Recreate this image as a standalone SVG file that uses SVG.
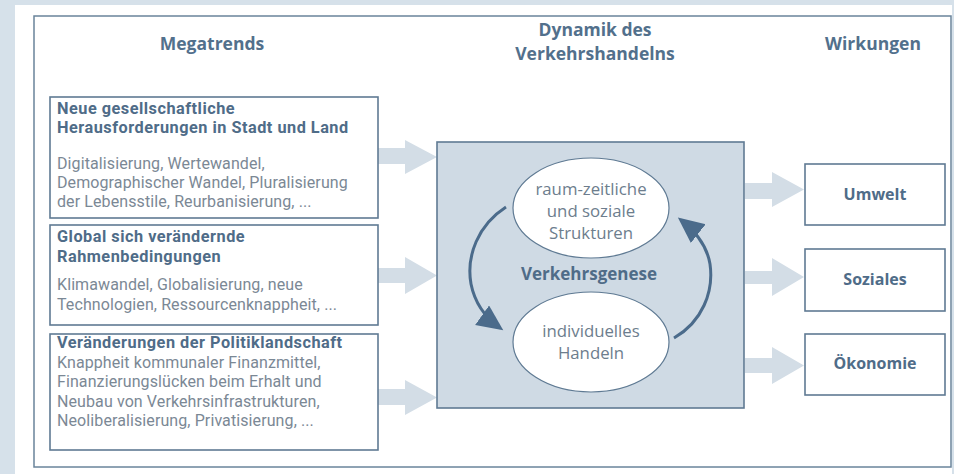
<svg xmlns="http://www.w3.org/2000/svg" width="954" height="474" viewBox="0 0 954 474">
<style>
  .title{font-family:"Open Sans","Liberation Sans",sans-serif;font-weight:700;font-size:17.5px;fill:#52708c;text-anchor:middle}
  .head{font-family:Roboto,"Liberation Sans",sans-serif;font-weight:700;font-size:16.3px;letter-spacing:0.5px;fill:#4f6c88}
  .body{font-family:Roboto,"Liberation Sans",sans-serif;font-size:16px;letter-spacing:0.1px;fill:#7b8895}
  .ell{font-family:"Open Sans","Liberation Sans",sans-serif;font-size:16.8px;fill:#6d7d8d;text-anchor:middle}
  .rb{font-family:"Open Sans","Liberation Sans",sans-serif;font-weight:700;font-size:16px;fill:#4f6c88;text-anchor:middle}
  .box{fill:#ffffff;stroke:#5f7a93;stroke-width:1.6}
  .fat{fill:#d3dde6}
  .cyc{fill:none;stroke:#4b6b8b;stroke-width:3}
</style>
<defs>
  <marker id="ah" markerUnits="userSpaceOnUse" markerWidth="30" markerHeight="30" refX="22" refY="12" orient="auto">
    <path d="M0,0 L26,12 L0,24 Z" fill="#4b6b8b"/>
  </marker>
</defs>
<rect x="0" y="0" width="954" height="474" fill="#d6e1ea"/>
<rect x="15" y="5" width="937" height="469" fill="#ffffff"/>
<rect x="34" y="16" width="917" height="451" fill="none" stroke="#6a849b" stroke-width="1.5"/>

<text class="title" x="212" y="50">Megatrends</text>
<text class="title" x="595" y="36">Dynamik des</text>
<text class="title" x="595" y="60">Verkehrshandelns</text>
<text class="title" x="873" y="50">Wirkungen</text>

<g id="connectors">
  <path class="fat" d="M378,148 H405 V140 L437,157 L405,174 V164 H378 Z"/>
  <path class="fat" d="M378,268 H405 V257 L437,275.5 L405,294 V283 H378 Z"/>
  <path class="fat" d="M378,389 H405 V380 L437,397.5 L405,415 V405 H378 Z"/>
  <path class="fat" d="M745,183 H772 V172 L804,189.5 L772,207 V199 H745 Z"/>
  <path class="fat" d="M745,271 H772 V258 L804,277 L772,296 V284 H745 Z"/>
  <path class="fat" d="M745,358 H772 V347 L804,365.5 L772,384 V373 H745 Z"/>
</g>

<g id="box-gesellschaft">
  <rect class="box" x="50" y="97" width="328" height="121"/>
  <text class="head" x="57" y="114">Neue gesellschaftliche</text>
  <text class="head" x="57" y="133">Herausforderungen in Stadt und Land</text>
  <text class="body" x="57" y="169">Digitalisierung, Wertewandel,</text>
  <text class="body" x="57" y="188">Demographischer Wandel, Pluralisierung</text>
  <text class="body" x="57" y="207">der Lebensstile, Reurbanisierung, ...</text>
</g>
<g id="box-global">
  <rect class="box" x="50" y="225" width="328" height="100"/>
  <text class="head" x="57" y="242">Global sich verändernde</text>
  <text class="head" x="57" y="262">Rahmenbedingungen</text>
  <text class="body" x="57" y="290">Klimawandel, Globalisierung, neue</text>
  <text class="body" x="57" y="310">Technologien, Ressourcenknappheit, ...</text>
</g>
<g id="box-politik">
  <rect class="box" x="50" y="334" width="328" height="116"/>
  <text class="head" x="57" y="348">Veränderungen der Politiklandschaft</text>
  <text class="body" x="57" y="368">Knappheit kommunaler Finanzmittel,</text>
  <text class="body" x="57" y="387">Finanzierungslücken beim Erhalt und</text>
  <text class="body" x="57" y="407">Neubau von Verkehrsinfrastrukturen,</text>
  <text class="body" x="57" y="426">Neoliberalisierung, Privatisierung, ...</text>
</g>

<g id="dynamik">
  <rect x="437" y="142" width="307" height="266" fill="#cfdae4" stroke="#5f7a93" stroke-width="1.6"/>
  <path class="cyc" d="M506,207 C478,225 466,256 471,284 C475,304 486,318 500,328" marker-end="url(#ah)"/>
  <path class="cyc" d="M674,338 C702,322 714,292 710,264 C707,246 695,231 681,220" marker-end="url(#ah)"/>
  <text x="589" y="280" font-family="'Open Sans','Liberation Sans',sans-serif" font-weight="700" font-size="17" fill="#4f6c88" text-anchor="middle">Verkehrsgenese</text>
</g>
<g id="strukturen">
  <ellipse cx="591" cy="208" rx="78" ry="50" fill="#ffffff" stroke="#5f7a93" stroke-width="1.2"/>
  <text class="ell" x="591" y="195">raum-zeitliche</text>
  <text class="ell" x="591" y="217">und soziale</text>
  <text class="ell" x="591" y="239">Strukturen</text>
</g>
<g id="handeln">
  <ellipse cx="591" cy="342" rx="78" ry="50" fill="#ffffff" stroke="#5f7a93" stroke-width="1.2"/>
  <text class="ell" x="591" y="337">individuelles</text>
  <text class="ell" x="591" y="359">Handeln</text>
</g>

<g id="umwelt">
  <rect class="box" x="805" y="164" width="140" height="61"/>
  <text class="rb" x="875" y="200">Umwelt</text>
</g>
<g id="soziales">
  <rect class="box" x="805" y="249" width="140" height="62"/>
  <text class="rb" x="875" y="285">Soziales</text>
</g>
<g id="oekonomie">
  <rect class="box" x="805" y="334" width="140" height="61"/>
  <text class="rb" x="875" y="369">Ökonomie</text>
</g>
</svg>
